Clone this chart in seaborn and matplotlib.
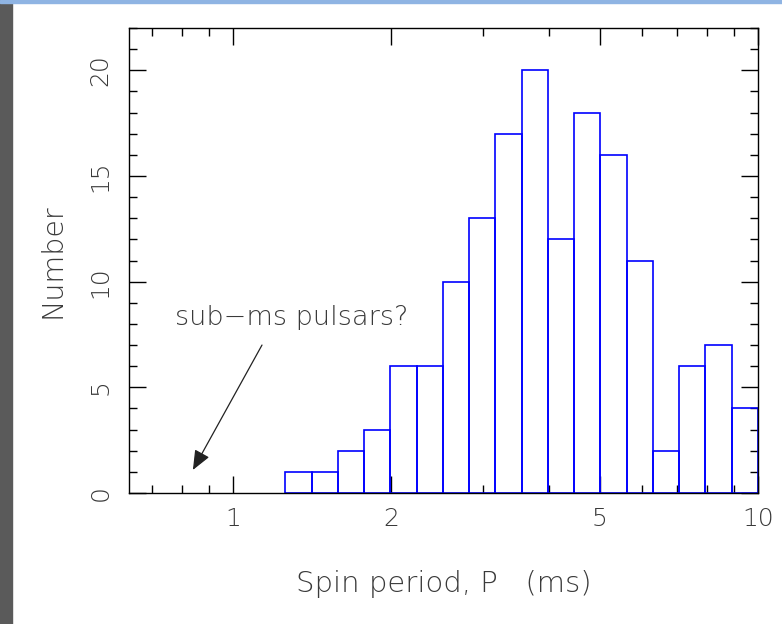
import numpy as np
import pandas as pd
import matplotlib
matplotlib.use("Agg")
import matplotlib.pyplot as plt
import matplotlib.ticker as mticker
from matplotlib.patches import Rectangle
import seaborn as sns

# log10 bin edges (P in ms) and counts per bin
log_bin_edges = [0.10, 0.15, 0.20, 0.25, 0.30, 0.35, 0.40, 0.45, 0.50, 0.55,
                 0.60, 0.65, 0.70, 0.75, 0.80, 0.85, 0.90, 0.95, 1.00]
counts = [1, 1, 2, 3, 6, 6, 10, 13, 17, 20, 12, 18, 16, 11, 2, 6, 7, 4]
x_tick_values = [1, 2, 5, 10]
x_tick_labels = ["1", "2", "5", "10"]
y_tick_values = [0, 5, 10, 15, 20]

edges = np.array(log_bin_edges)
centers = 10 ** ((edges[:-1] + edges[1:]) / 2)
df = pd.DataFrame({"P": centers, "n": counts})

sns.set_theme(style="white")
plt.rcParams['font.family'] = ['DejaVu Sans']
plt.rcParams['font.weight'] = 200

fig = plt.figure(figsize=(7.82, 6.24), dpi=100)
ax = fig.add_axes([129 / 782, 1 - 493 / 624, (758 - 129) / 782, (493 - 28) / 624])

sns.histplot(data=df, x="P", weights="n", bins=list(10 ** edges), fill=False,
             element="bars", color="#0000ff", linewidth=1.2, ax=ax)
ax.set_xscale("log")

ax.set_xlim(0.634, 10.0)
ax.set_ylim(0, 22)

txtc = "#3a3a3a"
ax.xaxis.set_major_locator(mticker.FixedLocator(x_tick_values))
ax.xaxis.set_major_formatter(mticker.FixedFormatter(x_tick_labels))
ax.xaxis.set_minor_locator(mticker.LogLocator(base=10, subs=np.arange(2, 10) * 1.0, numticks=20))
ax.xaxis.set_minor_formatter(mticker.NullFormatter())
ax.yaxis.set_major_locator(mticker.FixedLocator(y_tick_values))
ax.yaxis.set_minor_locator(mticker.MultipleLocator(1))

ax.tick_params(which="both", direction="in", top=True, right=True,
               bottom=True, left=True, colors="black", labelcolor=txtc,
               labelsize=18)
ax.tick_params(which="major", length=12, width=1.0)
ax.tick_params(which="minor", length=6, width=1.0)
ax.tick_params(axis="x", which="major", pad=10)
ax.tick_params(axis="y", which="major", pad=12)
for lab in ax.get_yticklabels():
    lab.set_rotation(90)
    lab.set_va("center")
    lab.set_fontweight(200)
for lab in ax.get_xticklabels():
    lab.set_fontweight(200)

for s in ax.spines.values():
    s.set_color("black")
    s.set_linewidth(1.0)

ax.set_xlabel("Spin period, P   (ms)", fontsize=21, color=txtc, labelpad=28,
              fontweight=200)
ax.set_ylabel("Number", fontsize=20.5, color=txtc, labelpad=16, fontweight=200)

ax.text(1.295, 8.28, "sub\u2212ms pulsars?", ha="center", va="center",
        fontsize=19.5, color=txtc, fontweight=200)
ax.annotate("", xy=(0.839, 1.09), xytext=(1.136, 7.0),
            arrowprops=dict(arrowstyle="-|>,head_length=0.6,head_width=0.25",
                            mutation_scale=20, color="#222222", lw=0.9,
                            shrinkA=0, shrinkB=0))

# window decoration of the reference screenshot
fig.patches.append(Rectangle((0, 0), 12 / 782, 1, transform=fig.transFigure,
                             color="#5a5a5a", zorder=-1))
fig.patches.append(Rectangle((0, 1 - 3 / 624), 1, 3 / 624, transform=fig.transFigure,
                             color="#8fb4e3", zorder=-1))

fig.savefig("out.png", dpi=100)
